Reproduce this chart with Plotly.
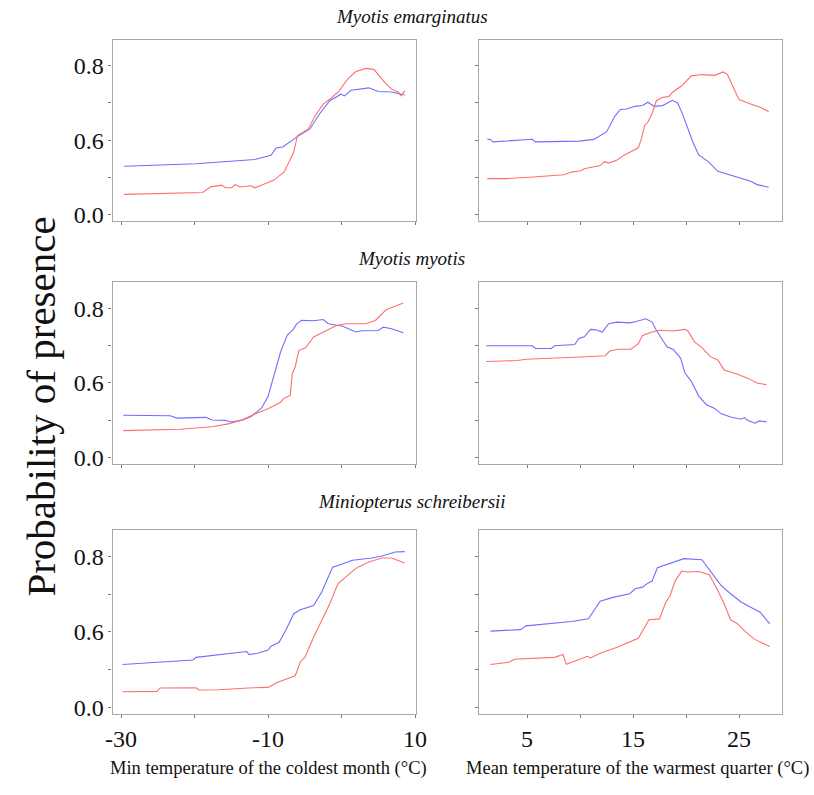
import plotly.graph_objects as go
from plotly.subplots import make_subplots

# ---------------- data ----------------
SPECIES = ["Myotis emarginatus", "Myotis myotis", "Miniopterus schreibersii"]
X_TITLES = ["Min temperature of the coldest month (°C)",
            "Mean temperature of the warmest quarter (°C)"]
Y_TITLE = "Probability of presence"

Y_TICKVALS = [0.0, 0.2, 0.4, 0.6, 0.8]
Y_TICKTEXT = ["0.0", "", "0.6", "", "0.8"]
XL_TICKVALS = [-30, -20, -10, 0, 10]
XL_TICKTEXT = ["-30", "", "-10", "", "10"]
XR_TICKVALS = [5, 10, 15, 20, 25]
XR_TICKTEXT = ["5", "", "15", "", "25"]

# Row 1 - Myotis emarginatus, min temperature of coldest month
r1l_blue_x = [-29.6, -19.8, -11.8, -9.6, -8.9, -8.0, -6.1, -4.3, -3.0, -1.6, -0.07, 0.4, 1.3, 3.7, 5.0, 6.8, 8.6]
r1l_blue_y = [0.260, 0.274, 0.296, 0.319, 0.358, 0.363, 0.416, 0.460, 0.540, 0.611, 0.646, 0.637, 0.667, 0.680, 0.660, 0.658, 0.642]
r1l_red_x = [-29.6, -18.9, -17.8, -16.3, -15.8, -14.9, -14.5, -13.8, -12.3, -11.8, -10.5, -9.2, -7.8, -6.5, -6.0, -4.5, -3.6, -2.5, -1.6, -0.3, 0.8, 1.9, 3.3, 4.4, 5.9, 6.8, 7.7, 8.1, 8.6]
r1l_red_y = [0.110, 0.120, 0.150, 0.159, 0.145, 0.145, 0.163, 0.149, 0.156, 0.145, 0.165, 0.186, 0.230, 0.336, 0.425, 0.460, 0.531, 0.593, 0.619, 0.664, 0.726, 0.766, 0.784, 0.779, 0.708, 0.673, 0.658, 0.637, 0.664]

# Row 1 - Myotis emarginatus, mean temperature of warmest quarter
r1r_blue_x = [1.25, 1.5, 1.8, 3.0, 5.5, 5.8, 7.6, 9.9, 11.3, 12.5, 13.3, 13.8, 14.4, 15.2, 15.9, 16.4, 17.0, 17.8, 18.7, 19.2, 19.6, 20.2, 20.7, 21.2, 22.1, 23.0, 24.5, 26.1, 26.7, 27.8]
r1r_blue_y = [0.405, 0.404, 0.391, 0.395, 0.405, 0.391, 0.391, 0.395, 0.404, 0.444, 0.529, 0.564, 0.567, 0.581, 0.585, 0.603, 0.581, 0.585, 0.613, 0.599, 0.550, 0.462, 0.382, 0.321, 0.285, 0.233, 0.206, 0.180, 0.162, 0.148]
r1r_red_x = [1.25, 3.0, 5.6, 8.5, 9.2, 10.1, 10.4, 11.9, 12.3, 12.7, 13.5, 14.2, 15.5, 15.8, 16.1, 16.4, 16.8, 17.2, 17.8, 18.4, 18.7, 19.6, 20.5, 21.5, 22.7, 23.5, 23.9, 24.5, 25.0, 26.1, 27.0, 27.8]
r1r_red_y = [0.194, 0.194, 0.203, 0.215, 0.229, 0.236, 0.247, 0.264, 0.285, 0.277, 0.294, 0.321, 0.359, 0.409, 0.479, 0.497, 0.541, 0.611, 0.629, 0.634, 0.655, 0.691, 0.744, 0.751, 0.747, 0.765, 0.752, 0.682, 0.617, 0.594, 0.576, 0.553]

# Row 2 - Myotis myotis, min temperature of coldest month
r2l_blue_x = [-29.7, -23.3, -22.4, -18.5, -17.6, -15.8, -15.1, -13.6, -12.3, -10.9, -10.0, -9.2, -8.3, -7.4, -6.5, -6.1, -5.4, -3.8, -2.5, -1.8, 0.2, 1.9, 2.8, 5.0, 5.7, 6.8, 8.4]
r2l_blue_y = [0.227, 0.225, 0.212, 0.216, 0.202, 0.200, 0.191, 0.200, 0.221, 0.265, 0.327, 0.442, 0.566, 0.655, 0.690, 0.717, 0.735, 0.733, 0.740, 0.717, 0.704, 0.673, 0.680, 0.681, 0.699, 0.690, 0.669]
r2l_red_x = [-29.7, -22.0, -17.6, -15.4, -13.4, -11.8, -10.0, -8.3, -7.8, -7.0, -6.7, -6.3, -5.8, -4.9, -3.8, -2.5, -0.7, 0.6, 3.3, 4.6, 6.1, 7.3, 8.4]
r2l_red_y = [0.145, 0.152, 0.166, 0.181, 0.204, 0.234, 0.262, 0.297, 0.319, 0.333, 0.451, 0.487, 0.575, 0.588, 0.646, 0.673, 0.708, 0.717, 0.717, 0.735, 0.793, 0.811, 0.828]

# Row 2 - Myotis myotis, mean temperature of warmest quarter
r2r_blue_x = [1.15, 5.5, 5.8, 7.3, 7.6, 9.5, 9.9, 10.4, 11.0, 11.5, 12.1, 12.7, 13.5, 14.7, 15.3, 16.2, 16.8, 17.2, 17.8, 18.2, 18.8, 19.5, 19.9, 20.5, 21.2, 21.9, 22.7, 23.3, 24.2, 25.2, 25.5, 25.8, 26.5, 26.9, 27.6]
r2r_blue_y = [0.599, 0.599, 0.585, 0.585, 0.599, 0.606, 0.638, 0.647, 0.687, 0.685, 0.673, 0.717, 0.726, 0.722, 0.729, 0.744, 0.726, 0.682, 0.629, 0.594, 0.580, 0.532, 0.453, 0.409, 0.330, 0.285, 0.264, 0.236, 0.218, 0.206, 0.215, 0.201, 0.185, 0.197, 0.192]
r2r_red_x = [1.15, 4.1, 4.9, 7.6, 10.1, 12.4, 12.8, 13.6, 14.8, 15.5, 15.9, 16.8, 17.5, 18.7, 19.9, 20.2, 20.8, 21.5, 22.3, 23.0, 23.6, 24.8, 25.8, 26.7, 27.6]
r2r_red_y = [0.515, 0.520, 0.527, 0.532, 0.539, 0.546, 0.571, 0.581, 0.581, 0.611, 0.655, 0.673, 0.682, 0.678, 0.687, 0.677, 0.620, 0.589, 0.541, 0.523, 0.470, 0.448, 0.426, 0.400, 0.391]

# Row 3 - Miniopterus schreibersii, min temperature of coldest month
r3l_blue_x = [-29.8, -24.2, -20.2, -19.8, -16.7, -15.4, -12.9, -12.6, -11.4, -10.0, -9.6, -8.5, -7.6, -6.5, -5.6, -3.8, -2.7, -2.1, -1.2, 0.2, 1.5, 4.1, 5.5, 7.3, 8.6]
r3l_blue_y = [0.227, 0.239, 0.251, 0.265, 0.280, 0.287, 0.296, 0.280, 0.287, 0.304, 0.324, 0.345, 0.407, 0.496, 0.517, 0.540, 0.611, 0.664, 0.743, 0.761, 0.779, 0.791, 0.802, 0.823, 0.825]
r3l_red_x = [-29.8, -25.1, -24.7, -19.8, -19.4, -16.7, -12.7, -10.0, -8.7, -6.9, -6.3, -5.6, -5.0, -3.8, -2.9, -1.6, -0.5, 0.6, 1.9, 3.7, 5.5, 6.8, 7.7, 8.6]
r3l_red_y = [0.083, 0.085, 0.103, 0.104, 0.092, 0.094, 0.103, 0.106, 0.133, 0.159, 0.168, 0.242, 0.265, 0.372, 0.442, 0.549, 0.655, 0.690, 0.735, 0.770, 0.791, 0.791, 0.779, 0.765]

# Row 3 - Miniopterus schreibersii, mean temperature of warmest quarter
r3r_blue_x = [1.55, 4.4, 4.9, 6.1, 9.2, 10.8, 11.3, 11.9, 13.2, 14.7, 15.2, 15.9, 16.4, 16.8, 17.3, 18.4, 19.8, 21.5, 22.4, 23.3, 24.2, 25.2, 26.1, 27.0, 27.9]
r3r_blue_y = [0.404, 0.412, 0.432, 0.439, 0.455, 0.469, 0.513, 0.563, 0.584, 0.602, 0.628, 0.637, 0.658, 0.669, 0.740, 0.761, 0.788, 0.782, 0.717, 0.646, 0.602, 0.558, 0.531, 0.504, 0.442]
r3r_red_x = [1.55, 3.3, 3.8, 5.8, 7.6, 8.4, 8.7, 9.8, 10.7, 11.0, 11.9, 13.5, 14.4, 15.5, 16.1, 16.5, 17.5, 18.1, 18.5, 19.0, 19.6, 20.1, 21.2, 22.2, 23.0, 23.6, 24.2, 24.8, 25.5, 26.4, 27.9]
r3r_red_y = [0.227, 0.239, 0.255, 0.262, 0.265, 0.280, 0.228, 0.251, 0.271, 0.262, 0.287, 0.319, 0.342, 0.366, 0.425, 0.464, 0.469, 0.558, 0.593, 0.673, 0.722, 0.717, 0.720, 0.703, 0.619, 0.549, 0.464, 0.446, 0.407, 0.363, 0.322]

PANELS = [
    (1, 1, r1l_blue_x, r1l_blue_y, r1l_red_x, r1l_red_y),
    (1, 2, r1r_blue_x, r1r_blue_y, r1r_red_x, r1r_red_y),
    (2, 1, r2l_blue_x, r2l_blue_y, r2l_red_x, r2l_red_y),
    (2, 2, r2r_blue_x, r2r_blue_y, r2r_red_x, r2r_red_y),
    (3, 1, r3l_blue_x, r3l_blue_y, r3l_red_x, r3l_red_y),
    (3, 2, r3r_blue_x, r3r_blue_y, r3r_red_x, r3r_red_y),
]

# ---------------- style ----------------
W, H = 814, 795
FONT = "Liberation Serif"
BLUE = "rgb(110,110,255)"
RED = "rgb(255,110,110)"
FRAME = "#a8a8a8"

COL_X = [(108, 418), (483, 793)]          # pixel extents of the columns
ROW_Y = [(40, 223), (285, 468), (535, 720)]  # pixel extents of the rows

fig = make_subplots(rows=3, cols=2)

for r, c, bx, by, rx, ry in PANELS:
    fig.add_trace(go.Scatter(x=bx, y=by, mode="lines", line=dict(color=BLUE, width=1.1),
                             showlegend=False, hoverinfo="skip"), row=r, col=c)
    fig.add_trace(go.Scatter(x=rx, y=ry, mode="lines", line=dict(color=RED, width=1.1),
                             showlegend=False, hoverinfo="skip"), row=r, col=c)

for r in range(1, 4):
    for c in range(1, 3):
        x0, x1 = COL_X[c - 1]
        y0, y1 = ROW_Y[r - 1]
        fig.update_xaxes(
            row=r, col=c,
            domain=[x0 / W, x1 / W],
            range=[-31.15, 10.1] if c == 1 else [0.5, 29.1],
            tickvals=XL_TICKVALS if c == 1 else XR_TICKVALS,
            ticktext=XL_TICKTEXT if c == 1 else XR_TICKTEXT,
            showticklabels=(r == 3),
            ticks="outside", ticklen=3, tickcolor="#777", tickwidth=1,
            showline=True, linecolor=FRAME, linewidth=1.3, mirror=True,
            showgrid=False, zeroline=False,
            tickfont=dict(family=FONT, size=24, color="#111"),
        )
        fig.update_yaxes(
            row=r, col=c,
            domain=[1 - y1 / H, 1 - y0 / H],
            range=[-0.033, 0.938],
            tickvals=Y_TICKVALS, ticktext=Y_TICKTEXT,
            showticklabels=(c == 1),
            ticks="outside", ticklen=3, tickcolor="#777", tickwidth=1,
            showline=True, linecolor=FRAME, linewidth=1.3, mirror=True,
            showgrid=False, zeroline=False,
            tickfont=dict(family=FONT, size=24, color="#111"),
        )

annotations = []
title_y = [17, 261, 506]
for i, name in enumerate(SPECIES):
    annotations.append(dict(text="<i>" + name + "</i>", x=414 / W, y=1 - title_y[i] / H,
                            xref="paper", yref="paper",
                            xanchor="center", yanchor="middle", showarrow=False,
                            font=dict(family=FONT, size=19, color="#111")))

annotations.append(dict(text=X_TITLES[0], x=267 / W, y=1 - 775 / H, xref="paper", yref="paper",
                        xanchor="center", yanchor="middle", showarrow=False,
                        font=dict(family=FONT, size=18.5, color="#111")))
annotations.append(dict(text=X_TITLES[1], x=645 / W, y=1 - 775 / H, xref="paper", yref="paper",
                        xanchor="center", yanchor="middle", showarrow=False,
                        font=dict(family=FONT, size=18.5, color="#111")))
annotations.append(dict(text=Y_TITLE, x=35 / W, y=1 - 410 / H, xref="paper", yref="paper",
                        xanchor="center", yanchor="middle", showarrow=False, textangle=-90,
                        font=dict(family=FONT, size=41, color="#111")))

fig.update_layout(
    width=W, height=H,
    margin=dict(l=0, r=0, t=0, b=0),
    paper_bgcolor="white", plot_bgcolor="white",
    annotations=annotations,
    showlegend=False,
)

fig.write_html("out.html")
